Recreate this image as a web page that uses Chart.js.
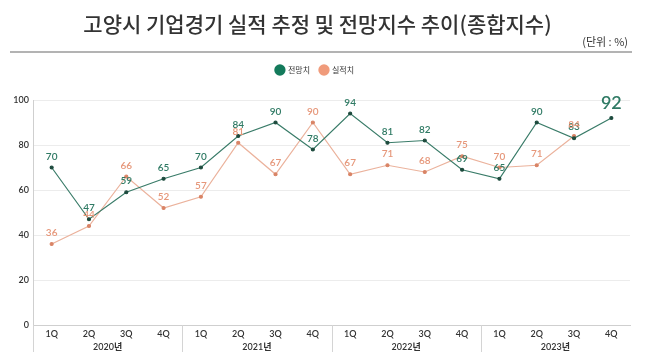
<!DOCTYPE html>
<html>
<head>
<meta charset="utf-8">
<script src="https://cdn.jsdelivr.net/npm/chart.js@4.4.1/dist/chart.umd.min.js"></script>
<style>
  html,body{margin:0;padding:0;background:#fff;}
  body{width:647px;height:363px;position:relative;overflow:hidden;font-family:"Noto Sans CJK KR","Noto Sans",sans-serif;}
  #title{position:absolute;left:0;width:635px;top:8px;text-align:center;font-size:21px;line-height:30px;font-weight:500;color:#333;white-space:nowrap;}
  #unit{position:absolute;right:19px;top:34px;font-size:11px;line-height:15px;color:#333;white-space:nowrap;}
  #rule{position:absolute;left:10px;top:51px;width:622px;height:2px;background:#b3b3b3;}
  #wrap{position:absolute;left:0;top:0;width:647px;height:363px;}
</style>
</head>
<body>
<div id="wrap"><canvas id="c" width="647" height="363"></canvas></div>
<div id="title">고양시 기업경기 실적 추정 및 전망지수 추이(종합지수)</div>
<div id="unit">(단위 : %)</div>
<div id="rule"></div>
<script>
const quarters = ['1Q','2Q','3Q','4Q','1Q','2Q','3Q','4Q','1Q','2Q','3Q','4Q','1Q','2Q','3Q','4Q'];
const years = ['2020년','2021년','2022년','2023년'];
const forecast = [70,47,59,65,70,84,90,78,94,81,82,69,65,90,83,92];
const actual   = [36,44,66,52,57,81,67,90,67,71,68,75,70,71,84,null];
const seriesNames = ['전망치','실적치'];
const yTicks = [0,20,40,60,80,100];

const GREEN = '#3a7c69', GREEN_LABEL = '#2f7a64', GREEN_PT = '#1d4a3d';
const ORANGE = '#ebb29c', ORANGE_LABEL = '#e6977a', ORANGE_PT = '#d98466';
const NUMFONT = 'Lato, "Noto Sans CJK KR", sans-serif';

const labelPlugin = {
  id: 'valueLabels',
  afterDatasetsDraw(chart) {
    const ctx = chart.ctx;
    ctx.save();
    ctx.textAlign = 'center';
    ctx.textBaseline = 'middle';
    chart.data.datasets.forEach((ds, di) => {
      const meta = chart.getDatasetMeta(di);
      meta.data.forEach((pt, i) => {
        const v = ds.data[i];
        if (v == null) return;
        const isLast = di === 0 && i === ds.data.length - 1;
        ctx.fillStyle = di === 0 ? GREEN_LABEL : ORANGE_LABEL;
        ctx.font = (isLast ? '600 18px ' : '600 10px ') + NUMFONT;
        ctx.fillText(String(v), pt.x, pt.y - (isLast ? 15 : 11));
      });
    });
    ctx.restore();
  }
};

const groupPlugin = {
  id: 'yearGroups',
  afterDraw(chart) {
    const ctx = chart.ctx;
    const xs = chart.scales.x;
    const bottom = chart.chartArea.bottom;
    const half = (xs.getPixelForValue(1) - xs.getPixelForValue(0)) / 2;
    ctx.save();
    ctx.strokeStyle = '#d4d4d4';
    ctx.lineWidth = 1;
    ctx.fillStyle = '#333';
    ctx.font = '600 9px ' + NUMFONT;
    ctx.textAlign = 'center';
    ctx.textBaseline = 'middle';
    years.forEach((y, g) => {
      const lx = Math.round(xs.getPixelForValue(g * 4) - half) + 0.5;
      ctx.beginPath();
      ctx.moveTo(lx, bottom);
      ctx.lineTo(lx, bottom + 27);
      ctx.stroke();
      const cx = (xs.getPixelForValue(g * 4 + 1) + xs.getPixelForValue(g * 4 + 2)) / 2;
      ctx.fillText(y, cx, bottom + 22);
    });
    ctx.restore();
  }
};

new Chart(document.getElementById('c'), {
  type: 'line',
  data: {
    labels: quarters,
    datasets: [
      { label: seriesNames[0], data: forecast, borderColor: GREEN, backgroundColor: '#137a5b',
        pointBackgroundColor: GREEN_PT, pointBorderColor: GREEN_PT, borderWidth: 1.2,
        pointRadius: 1.5, pointHoverRadius: 1.5, tension: 0, fill: false },
      { label: seriesNames[1], data: actual, borderColor: ORANGE, backgroundColor: '#f09b7b',
        pointBackgroundColor: ORANGE_PT, pointBorderColor: ORANGE_PT, borderWidth: 1.2,
        pointRadius: 1.5, pointHoverRadius: 1.5, tension: 0, fill: false, spanGaps: false }
    ]
  },
  options: {
    responsive: false,
    animation: false,
    layout: { padding: { top: 56, right: 17, left: 0, bottom: 0 } },
    plugins: {
      tooltip: { enabled: false },
      title: { display: false },
      subtitle: {
        display: true, text: ' ', weight: 500, position: 'top',
        font: { size: 10, lineHeight: 1 }, padding: { top: 3, bottom: 3 }
      },
      legend: {
        display: true,
        position: 'top',
        align: 'center',
        weight: 1000,
        labels: {
          usePointStyle: true,
          pointStyle: 'circle',
          boxWidth: 8,
          boxHeight: 8,
          padding: 10,
          color: '#333',
          font: { size: 8, family: '"Noto Sans CJK KR", sans-serif' },
          generateLabels(chart) {
            return chart.data.datasets.map((ds, i) => ({
              text: ds.label, fillStyle: ds.backgroundColor, strokeStyle: ds.backgroundColor,
              lineWidth: 0, pointStyle: 'circle', hidden: false, datasetIndex: i, fontColor: '#333'
            }));
          }
        }
      }
    },
    scales: {
      x: {
        offset: true,
        grid: { display: false, drawTicks: false },
        border: { display: true, color: '#cfcfcf', width: 1 },
        ticks: { color: '#333', padding: 4, font: { size: 9, weight: '600', family: NUMFONT }, maxRotation: 0, autoSkip: false },
        afterFit(s) { s.height = 38; }
      },
      y: {
        min: 0, max: 100,
        afterBuildTicks(s) { s.ticks = yTicks.map(v => ({ value: v })); },
        grid: { color: '#ececec', lineWidth: 1, drawTicks: false },
        border: { display: true, color: '#cfcfcf', width: 1 },
        ticks: { color: '#333', padding: 4, font: { size: 9, weight: '600', family: NUMFONT } },
        afterFit(s) { s.width = 33; }
      }
    }
  },
  plugins: [labelPlugin, groupPlugin]
});
</script>
</body>
</html>
